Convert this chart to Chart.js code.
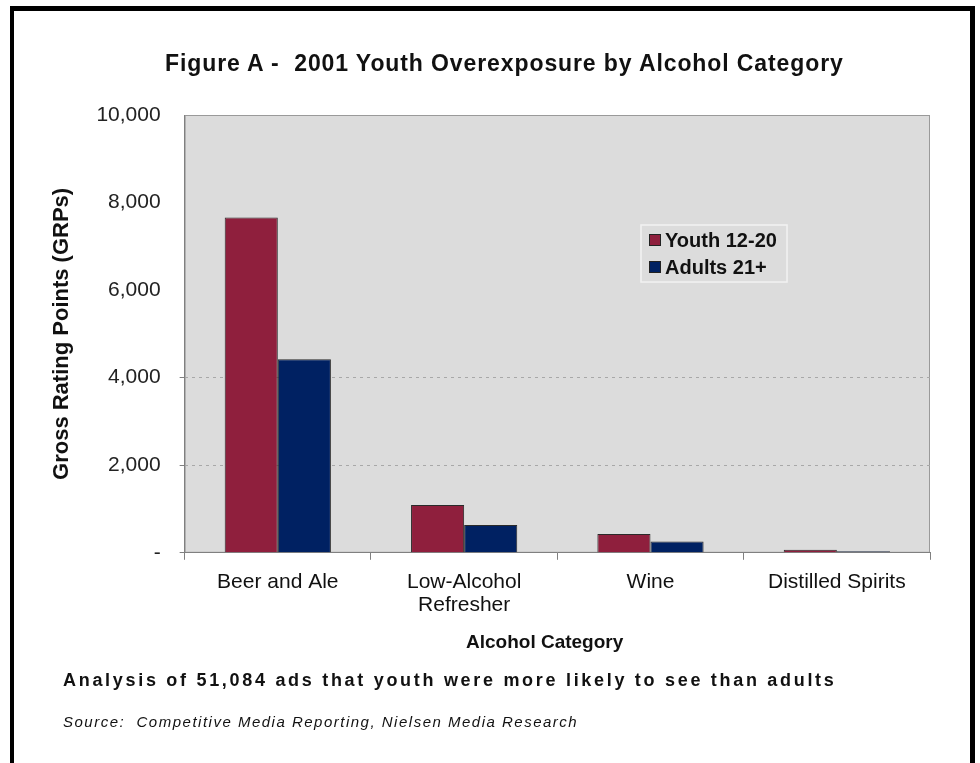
<!DOCTYPE html>
<html>
<head>
<meta charset="utf-8">
<script src="https://cdn.jsdelivr.net/npm/chart.js@4"></script>
<style>
  html, body { margin: 0; padding: 0; background: #ffffff; }
  #wrap { position: relative; width: 980px; height: 763px; overflow: hidden; }
  #frame { position: absolute; left: 10px; top: 6px; width: 965px; height: 800px;
           border-left: 4px solid #000; border-top: 5px solid #000; border-right: 5px solid #000;
           box-sizing: border-box; pointer-events: none; }
  .txt { position: absolute; color: #111; font-family: "Liberation Sans", Arial, sans-serif; white-space: pre; line-height: normal; }
  #title { left: 165px; top: 50px; font-size: 23px; font-weight: bold; letter-spacing: 0.9px; }
  #xtitle { left: 466px; top: 631px; font-size: 19px; font-weight: bold; }
  #note1 { left: 63px; top: 670px; font-size: 18px; font-weight: bold; letter-spacing: 2.7px; }
  #note2 { left: 63px; top: 713px; font-size: 15px; font-style: italic; letter-spacing: 1.5px; }
</style>
</head>
<body>
<div id="wrap">
  <canvas id="c" width="980" height="763"></canvas>
  <div id="frame"></div>
  <div class="txt" id="title"></div>
  <div class="txt" id="xtitle"></div>
  <div class="txt" id="note1"></div>
  <div class="txt" id="note2"></div>
</div>
<script>
const chartTitle = "Figure A -  2001 Youth Overexposure by Alcohol Category";
const categories = [["Beer and Ale"], ["Low-Alcohol", "Refresher"], ["Wine"], ["Distilled Spirits"]];
const seriesNames = ["Youth 12-20", "Adults 21+"];
const youthValues = [7660, 1090, 430, 70];
const adultValues = [4420, 635, 260, 35];
const yTicks = [0, 2000, 4000, 6000, 8000, 10000];
const yAxisTitle = "Gross Rating Points (GRPs)";
const xAxisTitle = "Alcohol Category";
const note1 = "Analysis of 51,084 ads that youth were more likely to see than adults";
const note2 = "Source:  Competitive Media Reporting, Nielsen Media Research";

document.getElementById('title').textContent = chartTitle;
document.getElementById('xtitle').textContent = xAxisTitle;
document.getElementById('note1').textContent = note1;
document.getElementById('note2').textContent = note2;

const FONT = '"Liberation Sans", Arial, sans-serif';
const colors = ["#8f1f3d", "#002162"];

const plotBg = {
  id: 'plotBg',
  beforeDraw(chart) {
    const {ctx, chartArea: a} = chart;
    ctx.save();
    ctx.fillStyle = '#dcdcdc';
    ctx.fillRect(a.left, a.top, a.right - a.left, a.bottom - a.top);
    ctx.strokeStyle = '#9a9a9a';
    ctx.lineWidth = 1;
    ctx.strokeRect(a.left + 0.5, a.top + 0.5, a.right - a.left - 1, a.bottom - a.top - 1);
    ctx.restore();
  }
};

const innerLegend = {
  id: 'innerLegend',
  afterDatasetsDraw(chart) {
    const {ctx} = chart;
    const x = 641, y = 225, w = 146, h = 57;
    ctx.save();
    ctx.fillStyle = '#dcdcdc';
    ctx.fillRect(x, y, w, h);
    ctx.strokeStyle = '#f2f2f2';
    ctx.lineWidth = 1.5;
    ctx.strokeRect(x, y, w, h);
    ctx.font = 'bold 20px ' + FONT;
    ctx.textBaseline = 'middle';
    chart.data.datasets.forEach((ds, i) => {
      const cy = 240 + i * 27;
      ctx.fillStyle = ds.backgroundColor;
      ctx.fillRect(649, cy - 6, 12, 12);
      ctx.strokeStyle = '#222';
      ctx.lineWidth = 1;
      ctx.strokeRect(649.5, cy - 5.5, 11, 11);
      ctx.fillStyle = '#111';
      ctx.fillText(ds.label, 665, cy + 1);
    });
    ctx.restore();
  }
};

new Chart(document.getElementById('c'), {
  type: 'bar',
  data: {
    labels: categories,
    datasets: [
      { label: seriesNames[0], data: youthValues, backgroundColor: colors[0], borderColor: '#2a2a2a', borderWidth: 1 },
      { label: seriesNames[1], data: adultValues, backgroundColor: colors[1], borderColor: '#2a2a2a', borderWidth: 1 }
    ]
  },
  options: {
    responsive: false,
    animation: false,
    devicePixelRatio: 1,
    layout: { padding: { left: 49, right: 50, top: 115, bottom: 135 } },
    datasets: { bar: { categoryPercentage: 0.57, barPercentage: 1.0 } },
    plugins: {
      legend: { display: false },
      tooltip: { enabled: false },
      title: { display: false }
    },
    scales: {
      x: {
        offset: true,
        grid: { display: true, drawOnChartArea: false, drawTicks: true, tickLength: 7, color: '#808080', offset: true },
        border: { display: true, color: '#808080', width: 1 },
        ticks: { color: '#111', font: { family: FONT, size: 21, lineHeight: 1.1 }, padding: 11, maxRotation: 0, autoSkip: false },
        title: { display: false, text: xAxisTitle }
      },
      y: {
        min: 0, max: 10000,
        afterBuildTicks(scale) { scale.ticks = yTicks.map(v => ({ value: v })); },
        grid: {
          drawTicks: true, tickLength: 5,
          color: c => (c.tick && (c.tick.value === 2000 || c.tick.value === 4000)) ? '#a8a8a8' : 'rgba(0,0,0,0)',
          tickColor: c => (c.tick && [0, 2000, 4000].includes(c.tick.value)) ? '#808080' : 'rgba(0,0,0,0)',
          lineWidth: 1
        },
        border: { display: true, color: '#808080', width: 1, dash: [3, 4] },
        ticks: {
          color: '#222', font: { family: FONT, size: 21, lineHeight: 1.2 }, padding: 19,
          callback: v => v === 0 ? '-' : v.toLocaleString('en-US')
        },
        title: { display: true, text: yAxisTitle, color: '#111', font: { family: FONT, size: 22, weight: 'bold', lineHeight: 1.2 }, padding: { top: 0, bottom: 2 } }
      }
    }
  },
  plugins: [plotBg, innerLegend]
});
</script>
</body>
</html>
